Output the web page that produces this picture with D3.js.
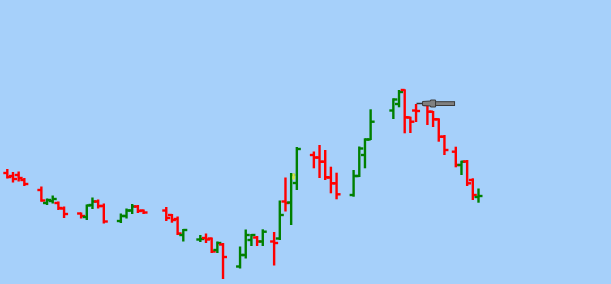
<!DOCTYPE html>
<html>
<head>
<meta charset="utf-8">
<script src="https://cdn.jsdelivr.net/npm/d3@7"></script>
<style>
  html, body { margin: 0; padding: 0; background: #a6d0fa; }
  svg { display: block; }
</style>
</head>
<body>
<div id="chart"></div>
<script>
// trading slot of each bar (gaps = no trading)
var days  = [0, 1, 2, 3, 6, 7, 8, 9, 10, 13, 14, 15, 16, 17, 20, 21, 22, 23, 24,
             28, 29, 30, 31, 34, 35, 36, 37, 38, 41, 42, 43, 44, 45, 47, 48, 49, 50, 51,
             54, 55, 56, 57, 58, 61, 62, 63, 64, 68, 69, 70, 71, 72, 74, 75, 76, 77,
             79, 80, 81, 82, 83];
var open  = [61.10, 60.80, 60.90, 60.40, 59.40, 58.10, 58.30, 58.10, 57.55, 57.05, 56.70, 57.90, 58.25, 57.80, 56.30, 56.80, 57.35, 57.75, 57.35,
             57.35, 56.90, 56.50, 54.90, 54.45, 54.60, 54.55, 53.40, 53.95, 51.75, 52.90, 54.40, 54.65, 54.25, 54.25, 54.55, 58.25, 58.15, 60.10,
             62.90, 62.65, 62.23, 60.65, 60.07, 58.90, 60.80, 62.90, 64.45, 67.35, 68.00, 69.40, 66.65, 67.35, 67.90, 67.23, 66.47, 64.73,
             63.23, 61.90, 62.25, 60.40, 58.70];
var high  = [61.50, 61.20, 61.25, 60.60, 59.75, 58.55, 58.85, 58.25, 57.75, 57.15, 57.95, 58.65, 58.45, 58.05, 57.05, 57.55, 58.00, 57.90, 57.45,
             57.70, 57.00, 56.75, 55.50, 54.90, 55.05, 54.65, 54.25, 54.10, 53.75, 55.45, 55.00, 54.80, 55.47, 55.20, 58.35, 60.65, 61.10, 63.70,
             63.25, 63.90, 63.40, 61.73, 61.13, 61.40, 63.75, 64.57, 67.47, 68.57, 69.40, 69.47, 66.73, 68.00, 68.05, 67.30, 66.57, 64.90,
             63.73, 62.33, 62.40, 60.57, 59.55];
var low   = [60.55, 60.15, 60.25, 59.80, 58.23, 57.90, 58.05, 57.40, 56.60, 56.55, 56.40, 57.50, 57.55, 56.05, 56.10, 56.55, 57.00, 57.10, 57.00,
             56.30, 56.13, 54.90, 54.25, 54.20, 54.10, 53.10, 53.10, 50.50, 51.55, 52.55, 53.80, 53.80, 53.80, 51.85, 54.40, 57.25, 55.90, 59.40,
             61.57, 60.60, 60.40, 59.07, 58.47, 58.73, 60.70, 61.57, 64.40, 66.50, 67.67, 65.07, 65.10, 66.20, 65.90, 65.70, 64.23, 62.90,
             61.67, 60.90, 59.80, 58.40, 58.13];
var close = [60.70, 60.50, 60.60, 60.00, 58.35, 58.40, 58.50, 57.60, 57.00, 56.80, 57.85, 58.25, 57.80, 56.25, 56.80, 57.35, 57.75, 57.30, 57.15,
             56.60, 56.40, 55.05, 55.40, 54.50, 54.45, 53.25, 54.10, 52.70, 52.90, 54.90, 54.90, 54.25, 55.23, 54.10, 56.90, 58.10, 60.90, 63.50,
             62.65, 62.23, 60.67, 60.07, 58.97, 60.80, 63.55, 64.45, 66.23, 68.45, 69.20, 66.67, 66.23, 67.30, 67.23, 66.47, 64.73, 63.40,
             61.90, 62.23, 60.07, 58.90, 58.80];

// annotation arrow points at this bar / price
var arrowDay = 72, arrowPrice = 68.05;
var markDay = 50, markTop = 61.05, markBottom = 60.45;

var width = 611, height = 284, tick = 4;

var x = d3.scaleLinear().domain([0, 83]).range([7.3, 478.5]);
var y = d3.scaleLinear().domain([50, 78.4]).range([height, 0]);

var svg = d3.select('#chart').append('svg')
    .attr('width', width)
    .attr('height', height);

svg.append('rect')
    .attr('width', width)
    .attr('height', height)
    .attr('fill', '#a6d0fa');

var bars = days.map(function(d, i) {
    return {day: d, o: open[i], h: high[i], l: low[i], c: close[i]};
});

var g = svg.append('g')
    .selectAll('g')
    .data(bars)
    .enter()
    .append('g')
    .attr('stroke', function(d) { return d.c < d.o ? '#ff0000' : '#008000'; })
    .attr('stroke-width', 2.4)
    .attr('fill', 'none');

// high-low line
g.append('line')
    .attr('x1', function(d) { return x(d.day); })
    .attr('x2', function(d) { return x(d.day); })
    .attr('y1', function(d) { return y(d.h); })
    .attr('y2', function(d) { return y(d.l); });

// open tick
g.append('line')
    .attr('x1', function(d) { return x(d.day) - tick; })
    .attr('x2', function(d) { return x(d.day); })
    .attr('y1', function(d) { return y(d.o); })
    .attr('y2', function(d) { return y(d.o); });

// close tick
g.append('line')
    .attr('x1', function(d) { return x(d.day); })
    .attr('x2', function(d) { return x(d.day) + tick; })
    .attr('y1', function(d) { return y(d.c); })
    .attr('y2', function(d) { return y(d.c); });

// small yellow marker
svg.append('rect')
    .attr('x', x(markDay) + 1.2)
    .attr('y', y(markTop))
    .attr('width', 2.5)
    .attr('height', y(markBottom) - y(markTop))
    .attr('fill', '#d8e64a');

// arrow annotation
var ax = x(arrowDay) + 0.5, ay = y(arrowPrice);
var arrow = svg.append('g').attr('transform', 'translate(' + ax + ',' + ay + ')');
arrow.append('line')
    .attr('x1', 0).attr('x2', 7)
    .attr('y1', 0).attr('y2', 0)
    .attr('stroke', '#333')
    .attr('stroke-width', 1.5);
arrow.append('path')
    .attr('d', 'M6,-2 L14,-2.5 L14,-3.5 L19,-3.5 L19,3.5 L14,3.5 L14,2.5 L6,2 Z')
    .attr('fill', '#808080')
    .attr('stroke', '#3a3a3a')
    .attr('stroke-width', 1);
arrow.append('rect')
    .attr('x', 19).attr('y', -1.8)
    .attr('width', 19).attr('height', 3.8)
    .attr('fill', '#808080')
    .attr('stroke', '#3a3a3a')
    .attr('stroke-width', 1);
</script>
</body>
</html>
